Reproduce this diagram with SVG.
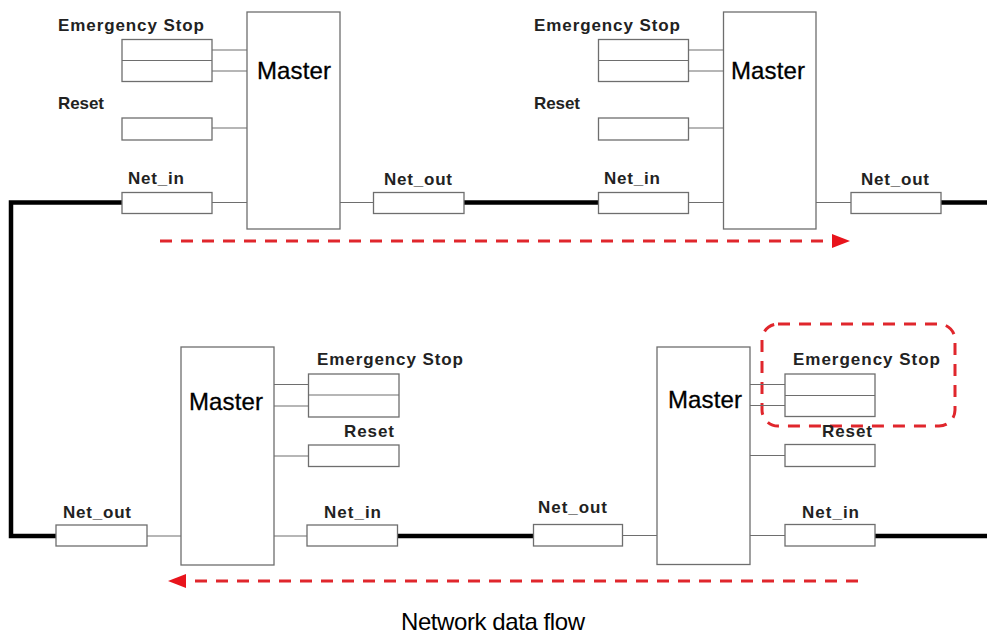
<svg xmlns="http://www.w3.org/2000/svg" width="987" height="636" viewBox="0 0 987 636">
<style>
.box{fill:#fff;stroke:#6e6e6e;stroke-width:1.3}
.wire{stroke:#6e6e6e;stroke-width:1.2;fill:none}
.net{stroke:#000;stroke-width:4.5;fill:none}
.flow{stroke:#e0262c;stroke-width:3;stroke-dasharray:12 9;fill:none}
.lbl{font-family:"Liberation Sans",Arial,sans-serif;font-weight:bold;font-size:17px;fill:#222}
.mst{font-family:"Liberation Sans",Arial,sans-serif;font-size:24px;fill:#000;stroke:#000;stroke-width:0.3}
.cap{font-family:"Liberation Sans",Arial,sans-serif;font-size:24px;fill:#000}
</style>
<rect width="987" height="636" fill="#fff"/>
<g id="connectors">
<path class="net" d="M122,202.5 H11 V536 H56"/>
<path class="net" d="M464,202.5 H598"/>
<path class="net" d="M941,202.5 H987"/>
<path class="net" d="M397,536 H533"/>
<path class="net" d="M875,536 H987"/>
<path class="flow" d="M160,241 H832"/>
<polygon points="832,234 850,241 832,248" fill="#e8141c"/>
<path class="flow" d="M858,581 H186"/>
<polygon points="186,574 168,581 186,588" fill="#e8141c"/>
<rect x="762" y="324" width="193" height="102" rx="16" fill="none" stroke="#e0262c" stroke-width="3" stroke-dasharray="12 9"/>
</g>
<g id="master1">
<rect class="box" x="247" y="12" width="93" height="217"/>
<text class="mst" x="257" y="79" textLength="74">Master</text>
<rect class="box" x="122" y="39.5" width="90" height="42"/>
<line class="wire" x1="122" y1="60.5" x2="212" y2="60.5"/>
<line class="wire" x1="212" y1="50" x2="247" y2="50"/>
<line class="wire" x1="212" y1="71" x2="247" y2="71"/>
<text class="lbl" x="58" y="31" textLength="146">Emergency Stop</text>
<rect class="box" x="122" y="118" width="90" height="22"/>
<line class="wire" x1="212" y1="128" x2="247" y2="128"/>
<text class="lbl" x="58" y="109" textLength="46">Reset</text>
<rect class="box" x="122" y="192.5" width="90" height="21"/>
<line class="wire" x1="212" y1="202.5" x2="247" y2="202.5"/>
<text class="lbl" x="128" y="184" textLength="56">Net_in</text>
<line class="wire" x1="340" y1="202.5" x2="373" y2="202.5"/>
<rect class="box" x="373.5" y="192.5" width="90.5" height="21"/>
<text class="lbl" x="384" y="185" textLength="68">Net_out</text>
</g>
<g id="master2">
<rect class="box" x="723.5" y="12" width="92.5" height="217"/>
<text class="mst" x="731" y="79" textLength="74">Master</text>
<rect class="box" x="598.5" y="39.5" width="90" height="42"/>
<line class="wire" x1="598.5" y1="60.5" x2="688.5" y2="60.5"/>
<line class="wire" x1="688.5" y1="50" x2="723.5" y2="50"/>
<line class="wire" x1="688.5" y1="71" x2="723.5" y2="71"/>
<text class="lbl" x="534" y="31" textLength="146">Emergency Stop</text>
<rect class="box" x="598.5" y="118" width="90" height="22"/>
<line class="wire" x1="688.5" y1="128" x2="723.5" y2="128"/>
<text class="lbl" x="534" y="109" textLength="46">Reset</text>
<rect class="box" x="598.5" y="192.5" width="90" height="21"/>
<line class="wire" x1="688.5" y1="202.5" x2="723.5" y2="202.5"/>
<text class="lbl" x="604" y="184" textLength="56">Net_in</text>
<line class="wire" x1="816" y1="202.5" x2="851" y2="202.5"/>
<rect class="box" x="851" y="192.5" width="90" height="21"/>
<text class="lbl" x="861" y="185" textLength="68">Net_out</text>
</g>
<g id="master3">
<rect class="box" x="181" y="347" width="93" height="218"/>
<text class="mst" x="189" y="410" textLength="74">Master</text>
<rect class="box" x="308.5" y="374" width="90.5" height="43"/>
<line class="wire" x1="308.5" y1="395" x2="399" y2="395"/>
<line class="wire" x1="274" y1="384.5" x2="308.5" y2="384.5"/>
<line class="wire" x1="274" y1="406" x2="308.5" y2="406"/>
<text class="lbl" x="317" y="365" textLength="146">Emergency Stop</text>
<rect class="box" x="308.5" y="445" width="90.5" height="21.5"/>
<line class="wire" x1="274" y1="456" x2="308.5" y2="456"/>
<text class="lbl" x="344" y="437" textLength="50">Reset</text>
<rect class="box" x="56" y="525" width="91" height="21"/>
<line class="wire" x1="147" y1="536" x2="181" y2="536"/>
<text class="lbl" x="63" y="518" textLength="68">Net_out</text>
<rect class="box" x="307" y="525" width="90.5" height="21"/>
<line class="wire" x1="274" y1="536" x2="307" y2="536"/>
<text class="lbl" x="324" y="518" textLength="57">Net_in</text>
</g>
<g id="master4">
<rect class="box" x="657" y="347" width="93" height="217.5"/>
<text class="mst" x="668" y="408" textLength="74">Master</text>
<rect class="box" x="785" y="374" width="90" height="42.5"/>
<line class="wire" x1="785" y1="395.5" x2="875" y2="395.5"/>
<line class="wire" x1="750" y1="384.5" x2="785" y2="384.5"/>
<line class="wire" x1="750" y1="405.5" x2="785" y2="405.5"/>
<text class="lbl" x="793" y="365" textLength="147">Emergency Stop</text>
<rect class="box" x="785" y="444.5" width="90" height="22"/>
<line class="wire" x1="750" y1="455.5" x2="785" y2="455.5"/>
<text class="lbl" x="822" y="437" textLength="50">Reset</text>
<rect class="box" x="533.5" y="524.5" width="89" height="21.5"/>
<line class="wire" x1="622.5" y1="535.5" x2="657" y2="535.5"/>
<text class="lbl" x="538" y="513" textLength="69">Net_out</text>
<rect class="box" x="785" y="524.5" width="90" height="21.5"/>
<line class="wire" x1="750" y1="535.5" x2="785" y2="535.5"/>
<text class="lbl" x="802" y="518" textLength="57">Net_in</text>
</g>
<text class="cap" x="401" y="630" textLength="184">Network data flow</text>
</svg>
